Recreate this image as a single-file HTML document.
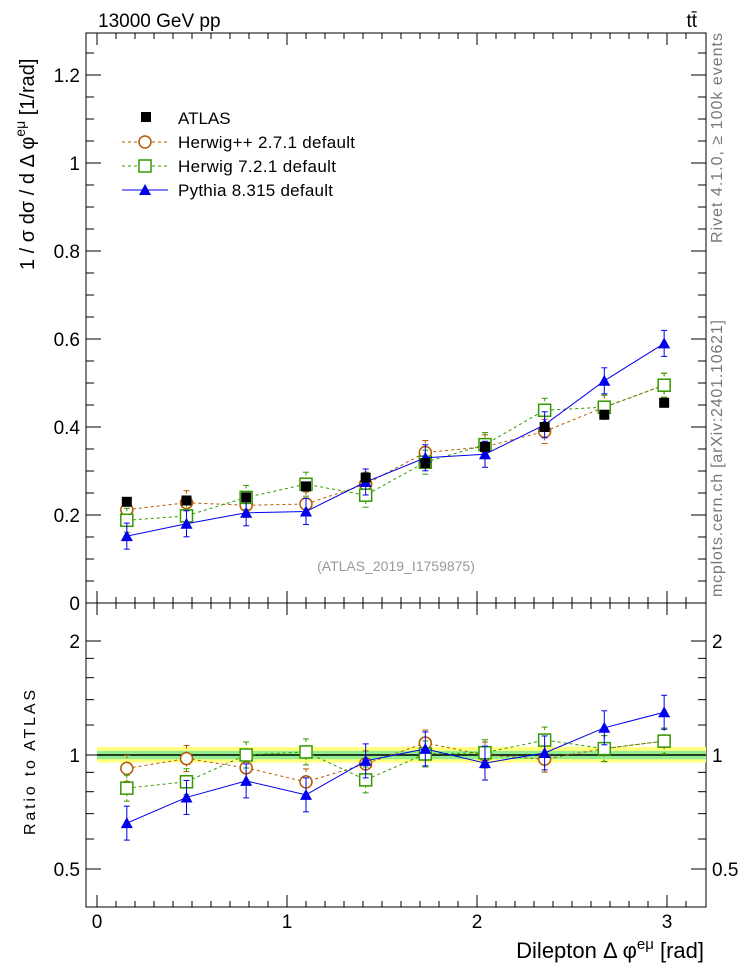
<!DOCTYPE html>
<html><head><meta charset="utf-8">
<style>
html,body{margin:0;padding:0;background:#fff;}
svg{display:block;font-family:"Liberation Sans",sans-serif;}
</style></head>
<body>
<svg id="s" width="746" height="972" xmlns="http://www.w3.org/2000/svg"></svg>
<script>
const S=document.getElementById('s');let h='';
const X=v=>97+190*v, Y=v=>603-440*v, R=r=>755-114*Math.log2(r);
const L=86,Rt=706,T=33,M=603,B=907;
h+=`<rect x="${L}" y="${T}" width="${Rt-L}" height="${M-T}" fill="none" stroke="#000"/>`;
h+=`<rect x="${L}" y="${M}" width="${Rt-L}" height="${B-M}" fill="none" stroke="#000"/>`;
for(let i=0;i<=31;i++){let v=i*0.1;let x=X(v);if(x>Rt)break;let big=i%10==0;let len=big?12:6;
 h+=`<line x1="${x}" y1="${B}" x2="${x}" y2="${B-len}" stroke="#000"/><line x1="${x}" y1="${M}" x2="${x}" y2="${M-len}" stroke="#000"/><line x1="${x}" y1="${M}" x2="${x}" y2="${M+len}" stroke="#000"/><line x1="${x}" y1="${T}" x2="${x}" y2="${T+len}" stroke="#000"/>`;
 if(big)h+=`<text x="${x}" y="928" font-size="19" text-anchor="middle">${i/10}</text>`;}
for(let i=0;i<=26;i++){let v=i*0.05;let y=Y(v);if(y<T)break;let big=i%4==0;let len=big?15:8;
 h+=`<line x1="${L}" y1="${y}" x2="${L+len}" y2="${y}" stroke="#000"/><line x1="${Rt}" y1="${y}" x2="${Rt-len}" y2="${y}" stroke="#000"/>`;
 if(big)h+=`<text x="80" y="${y+7}" font-size="19" text-anchor="end">${i==0?'0':(v.toFixed(1).replace(/\.0$/,''))}</text>`;}
[0.5,0.6,0.7,0.8,0.9,1,1.2,1.4,1.6,1.8,2].forEach(r=>{let y=R(r);let big=(r==0.5||r==1||r==2);let len=big?15:8;
 h+=`<line x1="${L}" y1="${y}" x2="${L+len}" y2="${y}" stroke="#000"/><line x1="${Rt}" y1="${y}" x2="${Rt-len}" y2="${y}" stroke="#000"/>`;
 if(big){h+=`<text x="80" y="${y+7}" font-size="19" text-anchor="end">${r}</text><text x="712" y="${y+7}" font-size="19">${r}</text>`;}});
h+=`<rect x="97" y="${R(1.05)}" width="${Rt-97}" height="${R(0.955)-R(1.05)}" fill="#ffff80"/>`;
h+=`<rect x="97" y="${R(1.025)}" width="${Rt-97}" height="${R(0.975)-R(1.025)}" fill="#90ee90"/>`;
h+=`<line x1="97" y1="${R(1)}" x2="${Rt}" y2="${R(1)}" stroke="#000" stroke-width="1.5"/>`;
const xs=[0.157,0.471,0.785,1.1,1.414,1.728,2.042,2.356,2.67,2.985];
const A=[0.23,0.233,0.24,0.265,0.285,0.318,0.355,0.40,0.428,0.455];
const hp=[0.212,0.228,0.222,0.225,0.27,0.342,0.355,0.39,0.445,0.495];
const h7=[0.188,0.198,0.24,0.27,0.245,0.32,0.36,0.438,0.445,0.495];
const py=[0.152,0.18,0.205,0.208,0.275,0.33,0.338,0.405,0.505,0.59];
const rat=a=>a.map((v,i)=>v/A[i]);
function series(vals,fy,col,dash,mk,err){
 let pts=vals.map((v,i)=>[X(xs[i]),fy(v)]);
 h+=`<polyline points="${pts.map(p=>p.join(',')).join(' ')}" fill="none" stroke="${col}" ${dash?'stroke-dasharray="3,3"':''}/>`;
 pts.forEach(([x,y])=>{let e=err;h+=`<line x1="${x}" y1="${y-e}" x2="${x}" y2="${y+e}" stroke="${col}" ${dash?'stroke-dasharray="3,3"':''}/><line x1="${x-3}" y1="${y-e}" x2="${x+3}" y2="${y-e}" stroke="${col}"/><line x1="${x-3}" y1="${y+e}" x2="${x+3}" y2="${y+e}" stroke="${col}"/>`;
  if(mk=='c')h+=`<circle cx="${x}" cy="${y}" r="6" fill="#fff" stroke="${col}" stroke-width="1.5"/>`;
  if(mk=='s')h+=`<rect x="${x-6}" y="${y-6}" width="12" height="12" fill="#fff" stroke="${col}" stroke-width="1.5"/>`;
  if(mk=='t')h+=`<polygon points="${x},${y-6} ${x-6},${y+5} ${x+6},${y+5}" fill="${col}"/>`;});}
series(hp,Y,'#b35900',1,'c',12);series(h7,Y,'#339900',1,'s',12);series(py,Y,'#0000ee',0,'t',13);
A.forEach((v,i)=>{let x=X(xs[i]),y=Y(v);h+=`<rect x="${x-5}" y="${y-5}" width="10" height="10" fill="#000"/>`;});
series(rat(hp),R,'#b35900',1,'c',13);series(rat(h7),R,'#339900',1,'s',13);series(rat(py),R,'#0000ee',0,'t',17);
h+=`<rect x="141" y="112" width="10" height="10" fill="#000"/><text x="178" y="124" font-size="17">ATLAS</text>`;
h+=`<line x1="122" y1="142" x2="168" y2="142" stroke="#b35900" stroke-dasharray="3,3"/><circle cx="145" cy="142" r="6" fill="#fff" stroke="#b35900" stroke-width="1.5"/><text x="178" y="148" font-size="17" textLength="177">Herwig++ 2.7.1 default</text>`;
h+=`<line x1="122" y1="166" x2="168" y2="166" stroke="#339900" stroke-dasharray="3,3"/><rect x="139" y="160" width="12" height="12" fill="#fff" stroke="#339900" stroke-width="1.5"/><text x="178" y="172" font-size="17" textLength="158">Herwig 7.2.1 default</text>`;
h+=`<line x1="122" y1="190" x2="168" y2="190" stroke="#0000ee"/><polygon points="145,184 139,195 151,195" fill="#0000ee"/><text x="178" y="196" font-size="17" textLength="155">Pythia 8.315 default</text>`;
h+=`<text x="396" y="571" font-size="14" fill="#999" text-anchor="middle">(ATLAS_2019_I1759875)</text>`;
h+=`<text x="98" y="27" font-size="19">13000 GeV pp</text><text x="697" y="27" font-size="19" text-anchor="end">tt̄</text>`;
h+=`<text transform="translate(722,243) rotate(-90)" font-size="16" fill="#777" textLength="210">Rivet 4.1.0, ≥ 100k events</text>`;
h+=`<text transform="translate(722,597) rotate(-90)" font-size="16" fill="#777" textLength="277">mcplots.cern.ch [arXiv:2401.10621]</text>`;
h+=`<text transform="translate(34,270) rotate(-90)" font-size="20">1 / σ  dσ / d Δ φ<tspan dy="-9" font-size="14">eμ</tspan><tspan dy="9"> [1/rad]</tspan></text>`;
h+=`<text transform="translate(35,835) rotate(-90)" font-size="16" textLength="145">Ratio to ATLAS</text>`;
h+=`<text x="704" y="958" font-size="22" text-anchor="end">Dilepton Δ φ<tspan dy="-9" font-size="15">eμ</tspan><tspan dy="9"> [rad]</tspan></text>`;
S.innerHTML=h;
</script>
</body></html>
